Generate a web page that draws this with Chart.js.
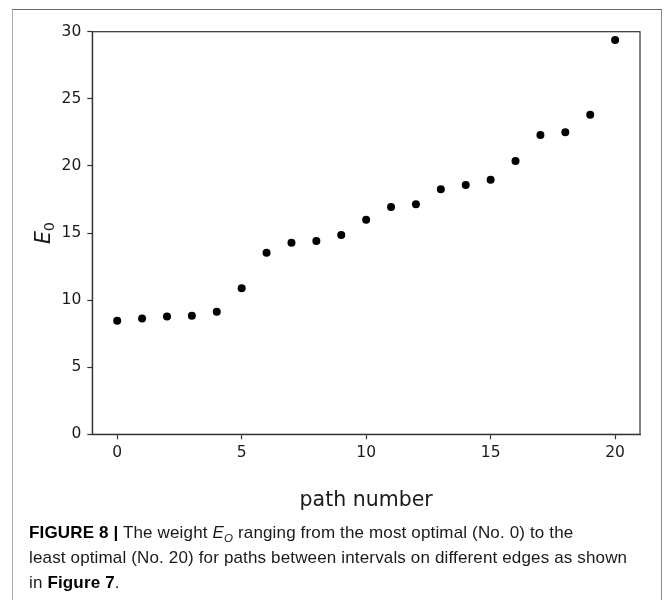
<!DOCTYPE html>
<html>
<head>
<meta charset="utf-8">
<script src="https://cdn.jsdelivr.net/npm/chart.js@4.4.1/dist/chart.umd.min.js"></script>
<style>
  html, body { margin: 0; padding: 0; background: #fff; }
  body { width: 665px; height: 600px; position: relative; overflow: hidden; }
  #frame { position: absolute; left: 12px; top: 9px; width: 650px; height: 640px;
           border: 1.5px solid #888; border-left-color: #aaa; border-top-color: #666; box-sizing: border-box; }
  #wrap { position: absolute; left: 0; top: 0; width: 665px; height: 530px; }
  #caption { position: absolute; left: 29px; top: 520px; width: 630px; white-space: nowrap;
             font-family: "Liberation Sans", Arial, sans-serif; font-size: 17px; line-height: 25px;
             color: #1a1a1a; letter-spacing: 0.15px; }
  #caption b { color: #000; }
  #caption sub { font-size: 11.5px; font-style: italic; vertical-align: -4px; line-height: 0; }
</style>
</head>
<body>
<div id="frame"></div>
<div id="wrap"><canvas id="c" width="665" height="530"></canvas></div>
<div id="caption"><b>FIGURE 8 |</b> The weight <i>E</i><sub>O</sub> ranging from the most optimal (No. 0) to the<br>least optimal (No. 20) for paths between intervals on different edges as shown<br>in <b>Figure 7</b>.</div>
<script>
const pathNumbers = [0,1,2,3,4,5,6,7,8,9,10,11,12,13,14,15,16,17,18,19,20];
const weights = [8.47, 8.62, 8.77, 8.84, 9.14, 10.88, 13.53, 14.28, 14.40, 14.85, 15.99,
                 16.94, 17.14, 18.26, 18.58, 18.97, 20.37, 22.30, 22.50, 23.82, 29.38];
const xTicks = [0, 5, 10, 15, 20];
const yTicks = [0, 5, 10, 15, 20, 25, 30];
const xTitle = 'path number';
const yTitleMain = 'E';
const yTitleSub = '0';

const boxPlugin = {
  id: 'box',
  afterDraw(chart) {
    const a = chart.chartArea, ctx = chart.ctx;
    ctx.save();
    ctx.strokeStyle = '#333';
    ctx.lineWidth = 1.2;
    ctx.strokeRect(a.left, a.top, a.right - a.left, a.bottom - a.top);
    // y-axis title: italic E with upright subscript 0
    const cy = (a.top + a.bottom) / 2;
    ctx.translate(50, cy);
    ctx.rotate(-Math.PI / 2);
    ctx.fillStyle = '#1a1a1a';
    ctx.textBaseline = 'alphabetic';
    ctx.textAlign = 'left';
    const fMain = 'italic 20.5px "DejaVu Sans"';
    const fSub = '14.5px "DejaVu Sans"';
    ctx.font = fMain;
    const wE = ctx.measureText(yTitleMain).width;
    ctx.font = fSub;
    const w0 = ctx.measureText(yTitleSub).width;
    const start = -(wE + w0) / 2;
    ctx.font = fMain;
    ctx.fillText(yTitleMain, start, 0);
    ctx.font = fSub;
    ctx.fillText(yTitleSub, start + wE, 4);
    ctx.restore();
  }
};

const tickFont = { family: 'DejaVu Sans', size: 15.5 };
new Chart(document.getElementById('c'), {
  type: 'scatter',
  data: {
    datasets: [{
      data: pathNumbers.map((x, i) => ({ x: x, y: weights[i] })),
      backgroundColor: '#000',
      borderColor: '#000',
      pointRadius: 4,
      pointHoverRadius: 4,
      borderWidth: 0
    }]
  },
  options: {
    responsive: false,
    animation: false,
    events: [],
    layout: { padding: { left: 0, top: 31.7, right: 25, bottom: 0 } },
    plugins: { legend: { display: false }, tooltip: { enabled: false } },
    scales: {
      x: {
        type: 'linear', min: -1, max: 21,
        afterBuildTicks: s => { s.ticks = xTicks.map(v => ({ value: v })); },
        afterFit: s => { s.height = 530 - 434.3; },
        grid: { drawOnChartArea: false, drawTicks: true, tickLength: 5, color: '#333', tickWidth: 1.2 },
        border: { display: true, color: '#333', width: 1.2 },
        ticks: { font: tickFont, color: '#1a1a1a', padding: 4, maxRotation: 0 },
        title: { display: true, text: xTitle, font: { family: 'DejaVu Sans', size: 20.5 }, color: '#1a1a1a',
                 padding: { top: 0, bottom: 17 } }
      },
      y: {
        type: 'linear', min: 0, max: 30,
        afterBuildTicks: s => { s.ticks = yTicks.map(v => ({ value: v })); },
        afterFit: s => { s.width = 92.3; },
        grid: { drawOnChartArea: false, drawTicks: true, tickLength: 5, color: '#333', tickWidth: 1.2 },
        border: { display: true, color: '#333', width: 1.2 },
        ticks: { font: tickFont, color: '#1a1a1a', padding: 6 },
        title: { display: false }
      }
    }
  },
  plugins: [boxPlugin]
});
</script>
</body>
</html>
